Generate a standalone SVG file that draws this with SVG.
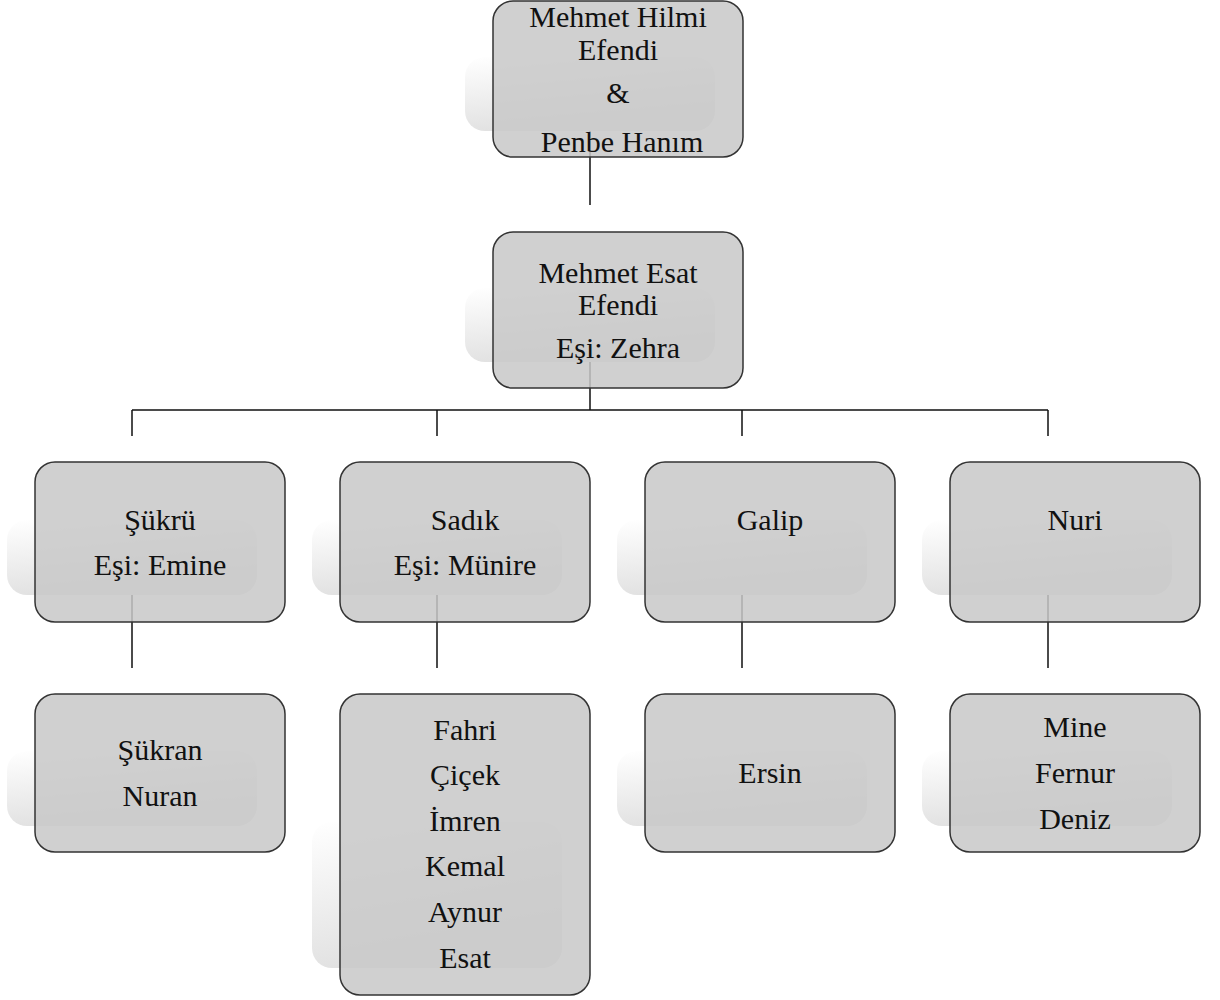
<svg xmlns="http://www.w3.org/2000/svg" width="1220" height="1000" viewBox="0 0 1220 1000">
<defs>
<linearGradient id="sh" x1="0" y1="0" x2="0.3" y2="1">
<stop offset="0" stop-color="#ffffff"/>
<stop offset="1" stop-color="#e0e0e0"/>
</linearGradient>
<style>
.box{fill:#c8c8c8;fill-opacity:0.85;stroke:#333;stroke-width:1.5}
.shadow{fill:url(#sh)}
.t{font-family:"Liberation Serif","Times New Roman",serif;font-size:30px;fill:#111;text-anchor:middle}
.c{stroke:#111;stroke-width:1.5;fill:none}
</style>
</defs>
<rect width="1220" height="1000" fill="#fff"/>
<g id="connectors">
<path class="c" d="M590 130V205"/>
<path class="c" d="M590 362V410M132 410H1048M132 410V436M437 410V436M742 410V436M1048 410V436"/>
<path class="c" d="M132 595V668M437 595V668M742 595V668M1048 595V668"/>
</g>
<g id="n1">
<rect class="shadow" x="465" y="57" width="250" height="74" rx="20"/>
<rect class="box" x="493" y="1" width="250" height="156" rx="20"/>
<text class="t" x="618" y="27">Mehmet Hilmi</text>
<text class="t" x="618" y="60">Efendi</text>
<text class="t" x="618" y="103">&amp;</text>
<text class="t" x="622" y="152">Penbe Hanım</text>
</g>
<g id="n2">
<rect class="shadow" x="465" y="288" width="250" height="74" rx="20"/>
<rect class="box" x="493" y="232" width="250" height="156" rx="20"/>
<text class="t" x="618" y="283">Mehmet Esat</text>
<text class="t" x="618" y="315">Efendi</text>
<text class="t" x="618" y="358">Eşi: Zehra</text>
</g>
<g id="n3">
<rect class="shadow" x="7" y="520" width="250" height="75" rx="20"/>
<rect class="box" x="35" y="462" width="250" height="160" rx="20"/>
<text class="t" x="160" y="530">Şükrü</text>
<text class="t" x="160" y="575">Eşi: Emine</text>
</g>
<g id="n4">
<rect class="shadow" x="312" y="520" width="250" height="75" rx="20"/>
<rect class="box" x="340" y="462" width="250" height="160" rx="20"/>
<text class="t" x="465" y="530">Sadık</text>
<text class="t" x="465" y="575">Eşi: Münire</text>
</g>
<g id="n5">
<rect class="shadow" x="617" y="520" width="250" height="75" rx="20"/>
<rect class="box" x="645" y="462" width="250" height="160" rx="20"/>
<text class="t" x="770" y="530">Galip</text>
</g>
<g id="n6">
<rect class="shadow" x="922" y="520" width="250" height="75" rx="20"/>
<rect class="box" x="950" y="462" width="250" height="160" rx="20"/>
<text class="t" x="1075" y="530">Nuri</text>
</g>
<g id="n7">
<rect class="shadow" x="7" y="751" width="250" height="75" rx="20"/>
<rect class="box" x="35" y="694" width="250" height="158" rx="20"/>
<text class="t" x="160" y="760">Şükran</text>
<text class="t" x="160" y="806">Nuran</text>
</g>
<g id="n8">
<rect class="shadow" x="312" y="822" width="250" height="146" rx="20"/>
<rect class="box" x="340" y="694" width="250" height="301" rx="20"/>
<text class="t" x="465" y="740">Fahri</text>
<text class="t" x="465" y="785">Çiçek</text>
<text class="t" x="465" y="831">İmren</text>
<text class="t" x="465" y="876">Kemal</text>
<text class="t" x="465" y="922">Aynur</text>
<text class="t" x="465" y="968">Esat</text>
</g>
<g id="n9">
<rect class="shadow" x="617" y="751" width="250" height="75" rx="20"/>
<rect class="box" x="645" y="694" width="250" height="158" rx="20"/>
<text class="t" x="770" y="783">Ersin</text>
</g>
<g id="n10">
<rect class="shadow" x="922" y="751" width="250" height="75" rx="20"/>
<rect class="box" x="950" y="694" width="250" height="158" rx="20"/>
<text class="t" x="1075" y="737">Mine</text>
<text class="t" x="1075" y="783">Fernur</text>
<text class="t" x="1075" y="829">Deniz</text>
</g>
</svg>
